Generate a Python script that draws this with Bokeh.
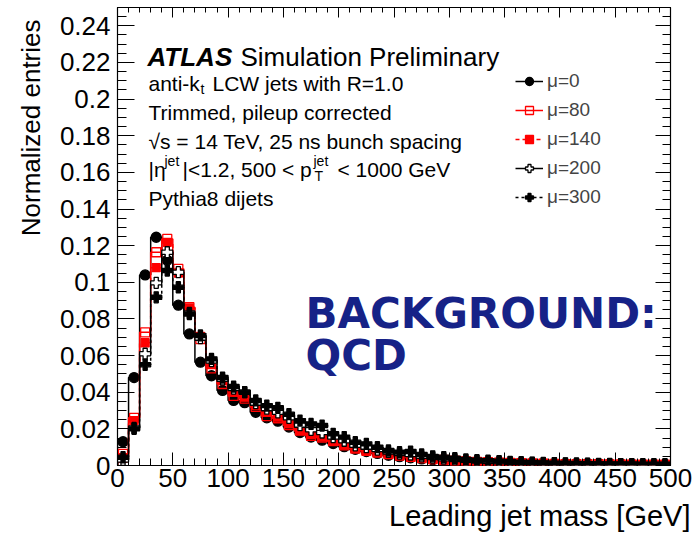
import numpy as np
from bokeh.plotting import figure
from bokeh.models import (Range1d, FixedTicker, LinearAxis, Label, Legend,
                          LegendItem, Title)
from bokeh.embed import file_html
from bokeh.resources import INLINE

# ---------------- data ----------------
bin_edges = np.arange(0, 501, 10)          # leading jet mass bins [GeV]
bin_centers = bin_edges[:-1] + 5

mu0 = [0.0130, 0.0480, 0.1040, 0.1246, 0.1120, 0.0875, 0.0718, 0.0564, 0.0490, 0.0410,
       0.0355, 0.0343, 0.0290, 0.0260, 0.0242, 0.0210, 0.0180, 0.0155, 0.0138, 0.0120,
       0.0103, 0.0088, 0.0076, 0.0066, 0.0056, 0.0048, 0.0042, 0.0036, 0.0031, 0.0027,
       0.0023, 0.0020, 0.0018, 0.0016, 0.0014, 0.0012, 0.0011, 0.0010, 0.0009, 0.0008,
       0.0007, 0.0007, 0.0006, 0.0006, 0.0005, 0.0005, 0.0004, 0.0004, 0.0004, 0.0004]
mu80 = [0.0064, 0.0260, 0.0727, 0.1164, 0.1237, 0.1073, 0.0864, 0.0690, 0.0530, 0.0445,
        0.0380, 0.0365, 0.0320, 0.0270, 0.0258, 0.0220, 0.0190, 0.0162, 0.0152, 0.0133,
        0.0110, 0.0092, 0.0080, 0.0070, 0.0062, 0.0054, 0.0047, 0.0040, 0.0035, 0.0030,
        0.0026, 0.0023, 0.0020, 0.0018, 0.0016, 0.0014, 0.0013, 0.0011, 0.0010, 0.0009,
        0.0008, 0.0008, 0.0007, 0.0007, 0.0006, 0.0006, 0.0005, 0.0005, 0.0005, 0.0004]
mu140 = [0.0040, 0.0245, 0.0670, 0.1080, 0.1218, 0.1050, 0.0860, 0.0705, 0.0555, 0.0464,
         0.0400, 0.0373, 0.0327, 0.0290, 0.0264, 0.0227, 0.0190, 0.0168, 0.0155, 0.0136,
         0.0112, 0.0094, 0.0083, 0.0073, 0.0064, 0.0055, 0.0049, 0.0042, 0.0036, 0.0031,
         0.0027, 0.0024, 0.0021, 0.0019, 0.0017, 0.0015, 0.0013, 0.0012, 0.0011, 0.0010,
         0.0009, 0.0008, 0.0008, 0.0007, 0.0007, 0.0006, 0.0006, 0.0005, 0.0005, 0.0005]
mu200 = [0.0030, 0.0205, 0.0610, 0.0997, 0.1164, 0.1055, 0.0833, 0.0695, 0.0570, 0.0470,
         0.0420, 0.0400, 0.0340, 0.0310, 0.0290, 0.0260, 0.0220, 0.0195, 0.0180, 0.0155,
         0.0135, 0.0110, 0.0100, 0.0087, 0.0074, 0.0065, 0.0060, 0.0050, 0.0043, 0.0037,
         0.0033, 0.0028, 0.0025, 0.0022, 0.0020, 0.0017, 0.0015, 0.0014, 0.0012, 0.0011,
         0.0010, 0.0009, 0.0009, 0.0008, 0.0007, 0.0007, 0.0006, 0.0006, 0.0006, 0.0005]
mu300 = [0.0045, 0.0200, 0.0550, 0.0918, 0.1064, 0.0973, 0.0827, 0.0710, 0.0582, 0.0480,
         0.0431, 0.0400, 0.0355, 0.0327, 0.0315, 0.0280, 0.0245, 0.0227, 0.0218, 0.0173,
         0.0155, 0.0127, 0.0118, 0.0100, 0.0082, 0.0073, 0.0076, 0.0060, 0.0050, 0.0045,
         0.0040, 0.0033, 0.0029, 0.0026, 0.0024, 0.0020, 0.0018, 0.0016, 0.0014, 0.0013,
         0.0012, 0.0011, 0.0010, 0.0009, 0.0009, 0.0008, 0.0008, 0.0007, 0.0007, 0.0007]

series_labels = ["μ=0", "μ=80", "μ=140", "μ=200", "μ=300"]
series_values = [mu0, mu80, mu140, mu200, mu300]

x_ticks = [0, 50, 100, 150, 200, 250, 300, 350, 400, 450, 500]
x_tick_labels = ["0", "50", "100", "150", "200", "250", "300", "350", "400", "450", "500"]
x_minor_ticks = list(range(0, 501, 10))
y_ticks = [0, 0.02, 0.04, 0.06, 0.08, 0.1, 0.12, 0.14, 0.16, 0.18, 0.2, 0.22, 0.24]
y_tick_labels = ["0", "0.02", "0.04", "0.06", "0.08", "0.1", "0.12", "0.14", "0.16",
                 "0.18", "0.2", "0.22", "0.24"]
y_minor_ticks = [round(i * 0.005, 3) for i in range(0, 51)]

# ---------------- styles ----------------
styles = [
    dict(color="black", dash="solid", marker="circle", fill="black", size=10),
    dict(color="#ff0000", dash="solid", marker="square", fill=None, size=9),
    dict(color="#ff0000", dash="4 3", marker="square", fill="#ff0000", size=8),
    dict(color="black", dash="solid", marker="plus", fill="white", size=11),
    dict(color="black", dash="3 3", marker="plus", fill="black", size=11),
]
FONT = "Liberation Sans"

p = figure(width=696, height=542, output_backend="svg", toolbar_location=None,
           x_range=Range1d(0, 500), y_range=Range1d(0, 0.25),
           min_border_left=117, min_border_right=26, min_border_top=7,
           min_border_bottom=77)
p.xgrid.visible = False
p.ygrid.visible = False
p.outline_line_color = "black"
p.outline_line_width = 1.2
p.background_fill_color = "white"
p.border_fill_color = "white"


def style_axis(ax, ticks, minor, labels, major_len, minor_len, show_labels, size="26px", standoff=4):
    ax.ticker = FixedTicker(ticks=ticks, minor_ticks=minor)
    ax.major_label_overrides = {t: l for t, l in zip(ticks, labels)}
    ax.major_tick_in = major_len
    ax.major_tick_out = 0
    ax.minor_tick_in = minor_len
    ax.minor_tick_out = 0
    ax.axis_line_color = None
    ax.major_tick_line_color = "black"
    ax.minor_tick_line_color = "black"
    ax.major_tick_line_width = 1
    ax.minor_tick_line_width = 1
    if show_labels:
        ax.major_label_text_font = FONT
        ax.major_label_text_font_size = size
        ax.major_label_text_color = "black"
        ax.major_label_standoff = standoff
    else:
        # mirrored tick axis: ticks only, labels not drawn
        ax.major_label_text_color = None
        ax.major_label_text_font_size = "1px"
        ax.major_label_standoff = 0
        ax.axis_label_standoff = 0


style_axis(p.xaxis[0], x_ticks, x_minor_ticks, x_tick_labels, 13, 7, True, standoff=3)
style_axis(p.yaxis[0], y_ticks, y_minor_ticks, y_tick_labels, 17, 9, True, standoff=7)

top_ax = LinearAxis()
style_axis(top_ax, x_ticks, x_minor_ticks, x_tick_labels, 10, 5, False)
p.add_layout(top_ax, "above")
right_ax = LinearAxis()
style_axis(right_ax, y_ticks, y_minor_ticks, y_tick_labels, 15, 8, False)
p.add_layout(right_ax, "right")

p.add_layout(Title(text="Normalized entries", align="right", text_font=FONT,
                   text_font_size="26px", text_font_style="normal", offset=12,
                   standoff=21, text_color="black"), "left")
p.add_layout(Title(text="Leading jet mass [GeV]", align="right", text_font=FONT,
                   text_font_size="29px", text_font_style="normal", offset=-20,
                   standoff=16, text_color="black"), "below")

# ---------------- histograms ----------------
items = []
for lab, vals, st in zip(series_labels, series_values, styles):
    vals = np.asarray(vals, dtype=float)
    xs = np.concatenate([[bin_edges[0]], bin_edges])
    ys = np.concatenate([[0.0], vals, [vals[-1]]])
    r_line = p.step(x=xs, y=ys, mode="after", line_color=st["color"],
                    line_width=1.5, line_dash=st["dash"])
    r_mark = p.scatter(x=bin_centers, y=vals, marker=st["marker"], size=st["size"],
                       fill_color=st["fill"], line_color=st["color"], line_width=1.3)
    items.append(LegendItem(label=lab, renderers=[r_line, r_mark]))

legend = Legend(items=items, location=(398, 257), padding=0, margin=0,
                spacing=7, glyph_width=28, glyph_height=20, label_height=20,
                label_standoff=4, label_text_font=FONT, label_text_font_size="19px",
                border_line_color=None, background_fill_alpha=0)
p.add_layout(legend)

# ---------------- texts ----------------
FL, FB = 117, 465   # frame left / bottom in canvas px


def put(text, px, py, size, style="normal", font=FONT, color="black"):
    p.add_layout(Label(x=px - FL, y=FB - py, x_units="screen", y_units="screen",
                       text=text, text_font=font, text_font_size=size,
                       text_font_style=style, text_color=color,
                       text_baseline="alphabetic", text_align="left"))


put("ATLAS", 147, 56, "26px", "bold italic")
put("Simulation Preliminary", 240, 56, "26px")
put("anti-k", 148, 82.5, "21px")
put("t", 200, 88, "14px")
put("LCW jets with R=1.0", 212, 82.5, "21px")
put("Trimmed, pileup corrected", 148, 111.5, "21px")
put("√s = 14 TeV, 25 ns bunch spacing", 148, 140.5, "21px")
put("|η", 148, 169, "21px")
put("jet", 164, 160, "14px")
put("|<1.2, 500 < p", 182, 169, "21px")
put("jet", 313, 160, "14px")
put("T", 314, 175, "14px")
put("< 1000 GeV", 337, 169, "21px")
put("Pythia8 dijets", 148, 198, "21px")

put("BACKGROUND:", 305, 313, "42px", "bold", "DejaVu Sans", "#162287")
put("QCD", 305, 355, "42px", "bold", "DejaVu Sans", "#162287")

open("out.html", "w").write(file_html(p, INLINE))
